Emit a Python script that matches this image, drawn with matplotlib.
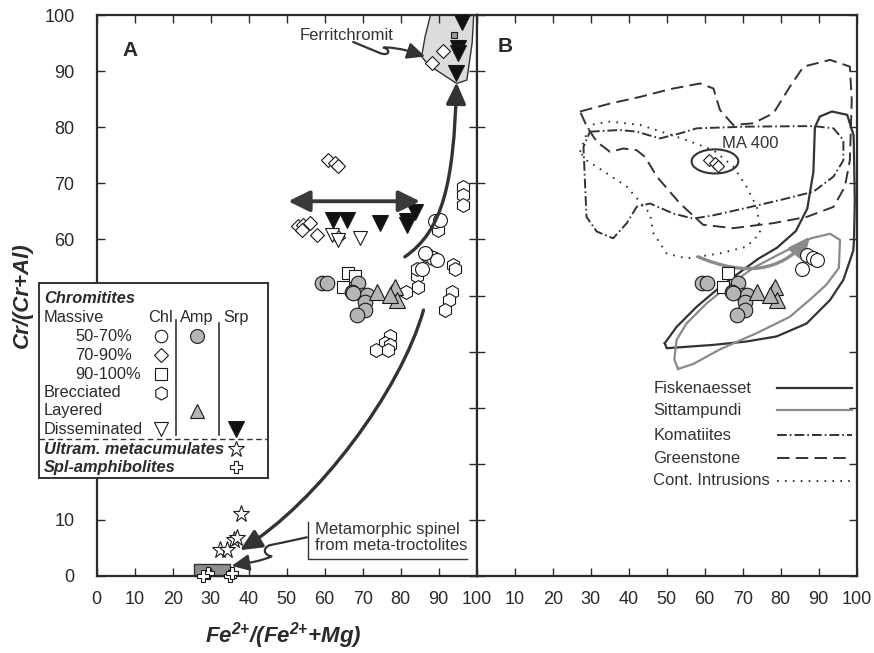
import matplotlib
matplotlib.use('Agg')
import matplotlib.pyplot as plt
from matplotlib.path import Path
from matplotlib.patches import FancyArrowPatch, Polygon, Rectangle, Ellipse

plt.rcParams['font.family'] = ['Liberation Sans', 'DejaVu Sans']
plt.rcParams['mathtext.fontset'] = 'custom'
plt.rcParams['mathtext.rm'] = 'Liberation Sans:italic:bold'
plt.rcParams['mathtext.it'] = 'Liberation Sans:italic:bold'
plt.rcParams['mathtext.bf'] = 'Liberation Sans:italic:bold'
plt.rcParams['lines.scale_dashes'] = False

# ---------------- data (Fe2+/(Fe2+ + Mg), Cr/(Cr+Al)) ----------------
chl_5070_x = [86.8, 88.6, 89.5, 85.5, 86.4, 89.0, 90.3]
chl_5070_y = [57.2, 56.6, 56.3, 54.8, 57.5, 63.2, 63.5]
amp_5070_x = [59.2, 60.5, 68.8, 67.1, 70.2, 71.2, 70.6, 70.6, 68.4, 67.5]
amp_5070_y = [52.3, 52.3, 52.2, 50.7, 50.1, 50.1, 48.9, 47.4, 46.5, 50.4]
chl_7090_x = [61.0, 62.7, 63.6, 53.1, 54.4, 56.1, 57.9, 53.9, 63.6, 91.2, 88.2]
chl_7090_y = [74.2, 73.6, 73.0, 62.3, 62.6, 62.9, 60.8, 61.7, 60.5, 93.5, 91.4]
chl_90100_x = [66.2, 64.9, 68.0]
chl_90100_y = [54.0, 51.6, 53.4]
brecc_x = [84.2, 84.6, 81.4, 84.2, 93.8, 94.3, 93.4, 92.8, 91.7, 77.2, 75.8,
           77.2, 73.5, 76.7, 96.5, 96.5, 96.5, 89.9]
brecc_y = [53.4, 51.6, 50.6, 54.8, 55.4, 54.8, 50.7, 49.2, 47.4, 42.7, 41.5,
           41.2, 40.2, 40.2, 69.4, 67.9, 66.1, 61.7]
amp_layered_x = [73.7, 77.6, 78.5, 78.9, 77.2]
amp_layered_y = [50.7, 50.7, 51.6, 49.2, 50.1]
chl_dissem_x = [61.8, 63.6, 69.3]
chl_dissem_y = [60.8, 59.9, 60.2]
srp_dissem_x = [62.3, 65.8, 74.6, 81.6, 83.8, 81.6, 96.1, 95.2, 95.2, 94.6]
srp_dissem_y = [63.5, 63.5, 62.9, 63.2, 64.9, 62.6, 98.8, 94.1, 93.2, 89.6]
ferrit_amp_x = [94.0]
ferrit_amp_y = [96.5]
metacum_x = [37.9, 36.0, 36.8, 32.4, 34.2]
metacum_y = [11.0, 6.4, 6.7, 4.6, 4.6]
splamph_x = [29.4, 28.1, 35.1, 35.5]
splamph_y = [0.5, 0.0, 0.0, 0.5]

# panel B subsets (indices into the arrays above)
b_chl_5070 = [0, 1, 2, 3]
b_chl_90100 = [0, 1]
b_ma400 = [0, 1, 2]

# field outlines, panel B
greenstone_x = [27.2, 35, 43, 51, 58.8, 62.3, 64, 67.5, 72.8, 78.1, 82.4, 86, 93, 98.2, 98.7,
                98.2, 96.9, 93.9, 86.8, 78.1, 67.5, 59.6, 53.5, 47.4, 44.3, 42.1, 38.6, 35.1,
                31.6, 29, 27.2]
greenstone_y = [82.8, 84.2, 85.4, 86.8, 87.8, 86.9, 83.1, 80.4, 80.7, 82.5, 87.2, 90.8, 92, 90.8,
                84.8, 74.1, 69.4, 65.8, 64, 62.9, 62, 62.6, 66.4, 71.2, 74.7, 75.9, 76.2, 75.6,
                77.4, 80.1, 82.8]
komatiite_x = [29.8, 37.7, 42.1, 48.2, 53.5, 57.9, 71, 88.6, 93.9, 96.5, 96.5, 93.9, 88.6, 79.8,
               70.2, 62.3, 57, 51.8, 45.6, 42.1, 39.5, 35.9, 31.6, 28.9, 28.5, 28.1, 29.8]
komatiite_y = [79.2, 79.5, 79.2, 78, 78.9, 79.8, 80.1, 80.2, 79.8, 77.7, 74.1, 71.2, 68.5, 67,
               65.5, 64.3, 63.7, 64.6, 66.4, 65.8, 62.9, 60.2, 61.4, 64, 70, 76.5, 79.2]
contint_x = [27.2, 29.8, 35.1, 43, 50, 55.2, 62.3, 67.5, 71, 73.7, 74.6, 71, 64, 55.2, 50, 46.5,
             45.6, 39.5, 34.2, 28.9, 27.2]
contint_y = [75.6, 80.4, 81, 80.4, 78.9, 77.7, 75.9, 73, 69.4, 65.8, 61.1, 58.7, 57.5, 56.6, 57.5,
             61.1, 64.6, 69.4, 71.8, 74.1, 75.6]
fisk_x = [49.5, 52.6, 57.9, 64, 69, 74, 79, 84, 87, 88.6, 89, 90.3, 93.5, 97.5, 99.2, 99.5, 99.3,
          99.1, 96.5, 93, 86.8, 78.9, 71, 62.3, 50.0, 49.5]
fisk_y = [41.5, 44.4, 48, 51.5, 54, 56.5, 58.5, 61.5, 65.5, 72, 80, 81.9, 82.8, 82.2, 78.5, 67, 60,
          58, 52.8, 49.2, 45, 42.7, 41.8, 41.2, 40.6, 41.5]
sitt_x = [53, 52, 52.6, 55.2, 60.5, 66.7, 73, 80, 88, 93, 95.6, 95.3, 92.1, 88.6, 82.4, 73.7, 64,
          57, 53]
sitt_y = [36.9, 38.6, 42.1, 45, 48.6, 52, 55, 57.5, 60.2, 61, 59.9, 54.9, 52, 49.8, 46.2, 43.3,
          40.4, 37.8, 36.9]
ferrit_field_x = [88.2, 99.3, 98.8, 97.4, 94.7, 87.3, 85.5, 86.4, 88.2]
ferrit_field_y = [101, 101, 95, 88.4, 87.8, 91.1, 92.6, 96.1, 101]

ticks = list(range(0, 101, 10))
ylabels_a = ['0', '10', '', '', '', '', '60', '70', '80', '90', '100']  # 20-50 hidden by legend box
DARK = '#2a2a2a'
GREY = '#b5b5b8'
EDGE = '#1a1a1a'

W, H = 874, 653
fig = plt.figure(figsize=(8.74, 6.53), dpi=100)


def px_axes(l, t, r, b):
    return [l / W, 1 - b / H, (r - l) / W, (b - t) / H]


ax1 = fig.add_axes(px_axes(96.7, 15, 476.7, 576))
ax2 = fig.add_axes(px_axes(476.7, 15, 856.7, 576))
for ax in (ax1, ax2):
    ax.set_xlim(0, 100)
    ax.set_ylim(0, 100)
    ax.set_xticks(ticks)
    ax.set_yticks(ticks)
    ax.tick_params(direction='in', length=6, width=1, top=True, right=True,
                   labelsize=13, colors=DARK, pad=11)
    for s in ax.spines.values():
        s.set_linewidth(1.6)
        s.set_color(DARK)
ax1.tick_params(axis='y', pad=16)
ax1.set_yticklabels(ylabels_a)
ax2.tick_params(labelleft=False)
ax2.set_xticklabels([''] + [str(t) for t in ticks[1:]])

mk = dict(ls='none', mec=EDGE, mew=0.8)


def plot_markers(ax, x, y, **kw):
    d = dict(mk)
    d.update(kw)
    ax.plot(x, y, **d)


# ---------------- panel A ----------------
ax1.add_patch(Polygon(list(zip(ferrit_field_x, ferrit_field_y)), closed=True,
                      fc='#dcdcdc', ec='#333333', lw=1.0, zorder=1))
ax1.add_patch(Rectangle((25.6, 0), 9.5, 2.1, fc='#8e8e8e', ec='#333333', lw=1.0, zorder=1,
                        clip_on=False))

plot_markers(ax1, brecc_x, brecc_y, marker='h', ms=10, mfc='white', zorder=3)
plot_markers(ax1, chl_5070_x, chl_5070_y, marker='o', ms=10, mfc='white', zorder=3)
plot_markers(ax1, chl_7090_x, chl_7090_y, marker='D', ms=7.4, mfc='white', zorder=3)
plot_markers(ax1, chl_90100_x, chl_90100_y, marker='s', ms=8.5, mfc='white', zorder=3)
plot_markers(ax1, chl_dissem_x, chl_dissem_y, marker='v', ms=9.5, mfc='white', zorder=3)
plot_markers(ax1, amp_5070_x, amp_5070_y, marker='o', ms=10.5, mfc=GREY, zorder=4)
plot_markers(ax1, amp_layered_x, amp_layered_y, marker='^', ms=11, mfc=GREY, zorder=4)
plot_markers(ax1, srp_dissem_x, srp_dissem_y, marker='v', ms=11, mfc='#111111', zorder=4)
plot_markers(ax1, ferrit_amp_x, ferrit_amp_y, marker='s', ms=4.5, mfc='#999999', zorder=4)
plot_markers(ax1, metacum_x, metacum_y, marker='*', ms=12.5, mfc='white', zorder=4)
plot_markers(ax1, splamph_x, splamph_y, marker='P', ms=9, mfc='white', zorder=4, clip_on=False)

ARR = '#333333'


def path_arrow(ax, verts, codes, lw=2.4, hl=0.65, hw=0.3, scale=20, color=ARR, z=5):
    p = FancyArrowPatch(path=Path(verts, codes),
                        arrowstyle=f'-|>,head_length={hl},head_width={hw}',
                        mutation_scale=scale, lw=lw, color=color, zorder=z)
    ax.add_patch(p)


C4 = [Path.MOVETO, Path.CURVE4, Path.CURVE4, Path.CURVE4]
# double arrow
ax1.add_patch(FancyArrowPatch((50.4, 66.8), (85.1, 66.8),
                              arrowstyle='<|-|>,head_length=0.65,head_width=0.32',
                              mutation_scale=20, lw=2.8, color='#3a3a3a',
                              shrinkA=0, shrinkB=0, zorder=5))
# up arrow to ferritchromite
path_arrow(ax1, [(81.1, 56.9), (91, 61.5), (94, 70), (94.7, 88)], C4)
# down arrow to metacumulates
path_arrow(ax1, [(86, 47.4), (80, 33), (58, 13), (37.7, 4.6)], C4)
# Ferritchromit label with squiggle arrow
ax1.text(65.8, 96.3, 'Ferritchromit', ha='center', va='center', fontsize=12, color='#333333')
path_arrow(ax1, [(67.5, 95.2), (71, 94.2), (74.6, 93.2), (77.0, 92.6),
                 (77.5, 93.8), (75.5, 94.2), (78, 94.3), (82, 93.6), (86.4, 92.6)],
           [Path.MOVETO, Path.CURVE3, Path.CURVE3, Path.CURVE4, Path.CURVE4, Path.CURVE4,
            Path.CURVE3, Path.CURVE3, Path.LINETO],
           lw=1.6, hl=0.6, hw=0.28, scale=18)
# metamorphic spinel label
ax1.text(57.4, 6.9, 'Metamorphic spinel\nfrom meta-troctolites', ha='left', va='center',
         fontsize=12, color='#333333', linespacing=1.05)
ax1.plot([55.5, 55.5, 97.4], [9.7, 3.0, 3.0], color='#333333', lw=1.0, zorder=5)
path_arrow(ax1, [(55.3, 6.9), (48, 5.8), (45.6, 5.5), (43.5, 5.0),
                 (44.0, 3.7), (46, 3.5), (44.7, 3.0), (41.2, 2.5), (35.5, 1.8)],
           [Path.MOVETO, Path.CURVE3, Path.CURVE3, Path.CURVE4, Path.CURVE4, Path.CURVE4,
            Path.CURVE3, Path.CURVE3, Path.LINETO],
           lw=1.6, hl=0.6, hw=0.28, scale=18)
ax1.text(8.8, 93.6, 'A', ha='center', va='center', fontsize=15, fontweight='bold', color=DARK)

# ---------------- panel B ----------------
line_kw = dict(color='#333333', lw=1.4, zorder=2)
ax2.plot(greenstone_x, greenstone_y, ls=(0, (9, 4.5)), **line_kw)
ax2.plot(komatiite_x, komatiite_y, ls=(0, (7, 2.2, 1.2, 2.2)), **line_kw)
ax2.plot(contint_x, contint_y, ls=(0, (1.2, 4.5)), **line_kw)
ax2.plot(fisk_x, fisk_y, ls='-', color='#333333', lw=1.6, zorder=2)
ax2.plot(sitt_x, sitt_y, ls='-', color='#8a8a8a', lw=1.6, zorder=2)
ax2.add_patch(Ellipse((62.7, 73.9), 12.3, 4.3, fill=False, ec='#333333', lw=1.5, zorder=2))
ax2.text(71.9, 77.1, 'MA 400', ha='center', va='center', fontsize=12, color='#333333')
path_arrow(ax2, [(58.3, 56.9), (70, 53.5), (80, 54), (87.7, 60.5)], C4,
           lw=2.4, color='#8a8a8a', z=3)

plot_markers(ax2, [chl_5070_x[i] for i in b_chl_5070], [chl_5070_y[i] for i in b_chl_5070],
             marker='o', ms=10, mfc='white', zorder=3)
plot_markers(ax2, [chl_90100_x[i] for i in b_chl_90100],
             [chl_90100_y[i] for i in b_chl_90100], marker='s', ms=8.5, mfc='white', zorder=3)
plot_markers(ax2, [chl_7090_x[i] for i in b_ma400], [chl_7090_y[i] for i in b_ma400],
             marker='D', ms=6, mfc='white', zorder=3)
plot_markers(ax2, amp_5070_x, amp_5070_y, marker='o', ms=10.5, mfc=GREY, zorder=4)
plot_markers(ax2, amp_layered_x, amp_layered_y, marker='^', ms=11, mfc=GREY, zorder=4)
ax2.text(7.4, 94.4, 'B', ha='center', va='center', fontsize=15, fontweight='bold', color=DARK)

# field legend, panel B (axes fractions)
leg_names = ['Fiskenaesset', 'Sittampundi', 'Komatiites', 'Greenstone', 'Cont. Intrusions']
leg_y = [0.3346, 0.2959, 0.2513, 0.2098, 0.1699]
leg_styles = [dict(ls='-', color='#333333', lw=1.6), dict(ls='-', color='#8a8a8a', lw=1.6),
              dict(ls=(0, (7, 2.2, 1.2, 2.2)), color='#333333', lw=1.4),
              dict(ls=(0, (9, 4.5)), color='#333333', lw=1.4),
              dict(ls=(0, (1.2, 4.5)), color='#333333', lw=1.4)]
for name, yy, st in zip(leg_names, leg_y, leg_styles):
    ax2.text(0.465, yy, name, transform=ax2.transAxes, ha='left', va='center',
             fontsize=12, color='#333333')
    ax2.plot([0.789, 0.987], [yy, yy], transform=ax2.transAxes, **st)

# ---------------- axis labels ----------------
fig.text(22 / W, 1 - 295 / H, 'Cr/(Cr+Al)', rotation=90, ha='center', va='center',
         fontsize=16, fontweight='bold', style='italic', color=DARK)
fig.text(283 / W, 1 - 636 / H, r'$\mathrm{Fe}^{2{+}}/(\mathrm{Fe}^{2{+}}{+}\mathrm{Mg})$',
         ha='center', va='center', fontsize=16, color=DARK)

# ---------------- symbol legend box (pixel coordinates) ----------------
lg = fig.add_axes(px_axes(39.3, 282.7, 268.3, 478))
lg.set_xlim(39.3, 268.3)
lg.set_ylim(478, 282.7)
lg.set_xticks([])
lg.set_yticks([])
lg.set_facecolor('white')
for s in lg.spines.values():
    s.set_linewidth(1.4)
    s.set_color('#333333')
fs = 11.8
tc = '#2a2a2a'
lg.text(44, 298.3, 'Chromitites', fontsize=fs, fontweight='bold', style='italic', va='center', color=tc)
lg.text(44, 317.7, 'Massive', fontsize=fs, va='center', color=tc)
for lab, xx in zip(['Chl', 'Amp', 'Srp'], [161, 196.7, 235.7]):
    lg.text(xx, 317.7, lab, fontsize=fs, va='center', ha='center', color=tc)
for lab, yy in zip(['50-70%', '70-90%', '90-100%'], [336, 355, 374]):
    lg.text(75, yy, lab, fontsize=fs, va='center', color=tc)
for lab, yy in zip(['Brecciated', 'Layered', 'Disseminated'], [392.7, 410.7, 429.3]):
    lg.text(44, yy, lab, fontsize=fs, va='center', color=tc)
lg.plot([161], [336], marker='o', ms=9, mfc='white', **mk)
lg.plot([196.7], [336], marker='o', ms=10, mfc=GREY, **mk)
lg.plot([161], [355], marker='D', ms=7, mfc='white', **mk)
lg.plot([161], [374], marker='s', ms=8, mfc='white', **mk)
lg.plot([161], [392.7], marker='h', ms=9.5, mfc='white', **mk)
lg.plot([196.7], [410.7], marker='^', ms=10, mfc=GREY, **mk)
lg.plot([161], [429.3], marker='v', ms=9.5, mfc='white', **mk)
lg.plot([235.7], [429.3], marker='v', ms=11, mfc='#111111', **mk)
lg.plot([176, 176], [320, 435], color='#333333', lw=1.2)
lg.plot([218.7, 218.7], [323, 435], color='#333333', lw=1.2)
lg.plot([39.3, 268.3], [439, 439], color='#333333', lw=1.0, ls=(0, (4, 2.5)))
lg.text(44, 449, 'Ultram. metacumulates', fontsize=fs, fontweight='bold', style='italic',
        va='center', color=tc)
lg.plot([235.7], [449], marker='*', ms=12, mfc='white', **mk)
lg.text(44, 467, 'Spl-amphibolites', fontsize=fs, fontweight='bold', style='italic',
        va='center', color=tc)
lg.plot([236], [467], marker='P', ms=9, mfc='white', **mk)

fig.savefig('out.png', dpi=100)
